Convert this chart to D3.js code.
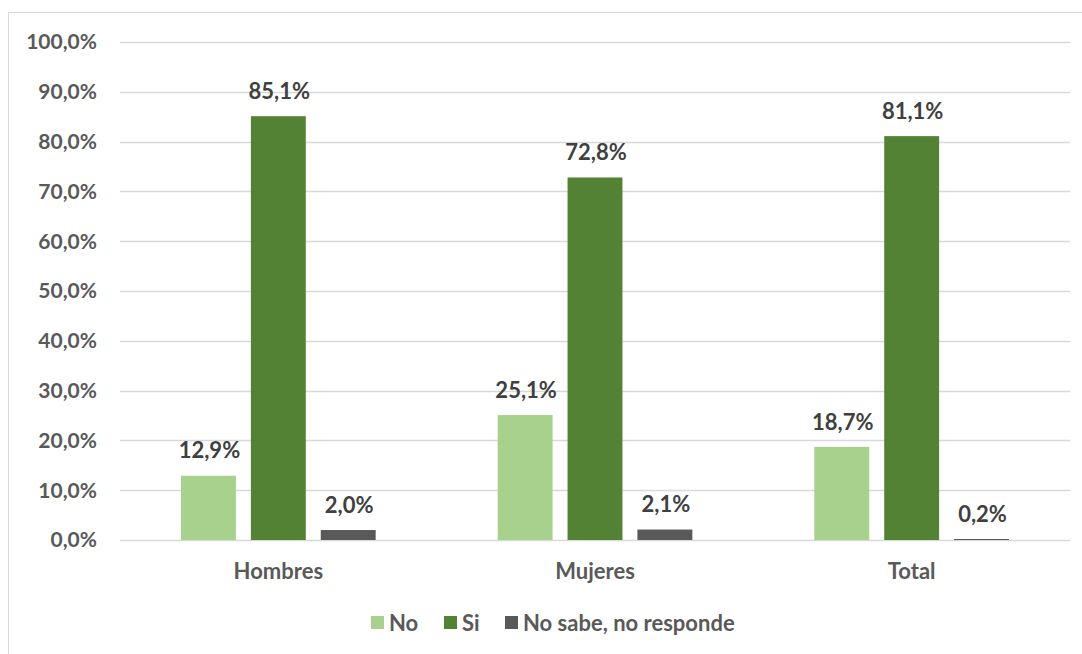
<!DOCTYPE html>
<html><head><meta charset="utf-8">
<script src="https://cdn.jsdelivr.net/npm/d3@7"></script>
<style>body{margin:0;background:#fff;} svg{display:block;font-family:Lato,"Open Sans",sans-serif;font-weight:bold;}</style>
</head><body>
<svg id="c" width="1082" height="654"></svg>
<script>
const categories = ["Hombres", "Mujeres", "Total"];
const seriesNames = ["No", "Si", "No sabe, no responde"];
const valNo = [12.9, 25.1, 18.7];
const valSi = [85.1, 72.8, 81.1];
const valNS = [2.0, 2.1, 0.2];
const yTicks = [0, 10, 20, 30, 40, 50, 60, 70, 80, 90, 100];
const colors = ["#a9d18e", "#548235", "#595959"];

const series = [valNo, valSi, valNS];
const svg = d3.select("#c");
svg.append("rect").attr("x", 8.5).attr("y", 12.5).attr("width", 1090).attr("height", 660)
  .attr("fill", "#fff").attr("stroke", "#d9d9d9");

const pLeft = 120, pRight = 1070, pTop = 42, pBottom = 540;
const x = d3.scaleBand().domain(categories).range([pLeft, pRight]).paddingInner(0).paddingOuter(0);
const xs = d3.scaleBand().domain(d3.range(3)).range([61, x.bandwidth() - 61]).paddingInner(15 / 70).paddingOuter(0);
const y = d3.scaleLinear().domain([0, 100]).range([pBottom, pTop]);
const fmt = v => d3.format(".1f")(v).replace(".", ",") + "%";

const g = svg.append("g");
g.selectAll("line.grid").data(yTicks).join("line").attr("class", "grid")
  .attr("x1", pLeft).attr("x2", pRight).attr("y1", d => Math.round(y(d)) + 0.5).attr("y2", d => Math.round(y(d)) + 0.5)
  .attr("stroke", "#d9d9d9").attr("stroke-width", 1.5);

g.selectAll("text.yt").data(yTicks).join("text").attr("class", "yt")
  .attr("x", 97).attr("y", d => y(d)).attr("dy", "0.35em").attr("text-anchor", "end")
  .attr("fill", "#595959").style("font-size", "21px").text(d => fmt(d));

categories.forEach((c, i) => {
  const gg = g.append("g").attr("transform", `translate(${x(c)},0)`);
  series.forEach((s, j) => {
    gg.append("rect").attr("x", xs(j)).attr("width", xs.bandwidth())
      .attr("y", y(s[i])).attr("height", y(0) - y(s[i])).attr("fill", colors[j]);
    gg.append("text").attr("x", xs(j) + xs.bandwidth() / 2 + 1).attr("y", y(s[i]) - 25).attr("dy", "0.35em")
      .attr("text-anchor", "middle").attr("fill", "#404040").style("font-size", "22px").text(fmt(s[i]));
  });
  gg.append("text").attr("x", x.bandwidth() / 2).attr("y", 571).attr("dy", "0.35em").attr("text-anchor", "middle")
    .attr("fill", "#595959").style("font-size", "22px").text(c);
});

// legend
const legX = [371, 444, 505];
seriesNames.forEach((n, j) => {
  svg.append("rect").attr("x", legX[j]).attr("y", 616).attr("width", 13).attr("height", 13).attr("fill", colors[j]);
  svg.append("text").attr("x", legX[j] + 18).attr("y", 623).attr("dy", "0.35em")
    .attr("fill", "#595959").style("font-size", "22px").text(n);
});
</script>
</body></html>
